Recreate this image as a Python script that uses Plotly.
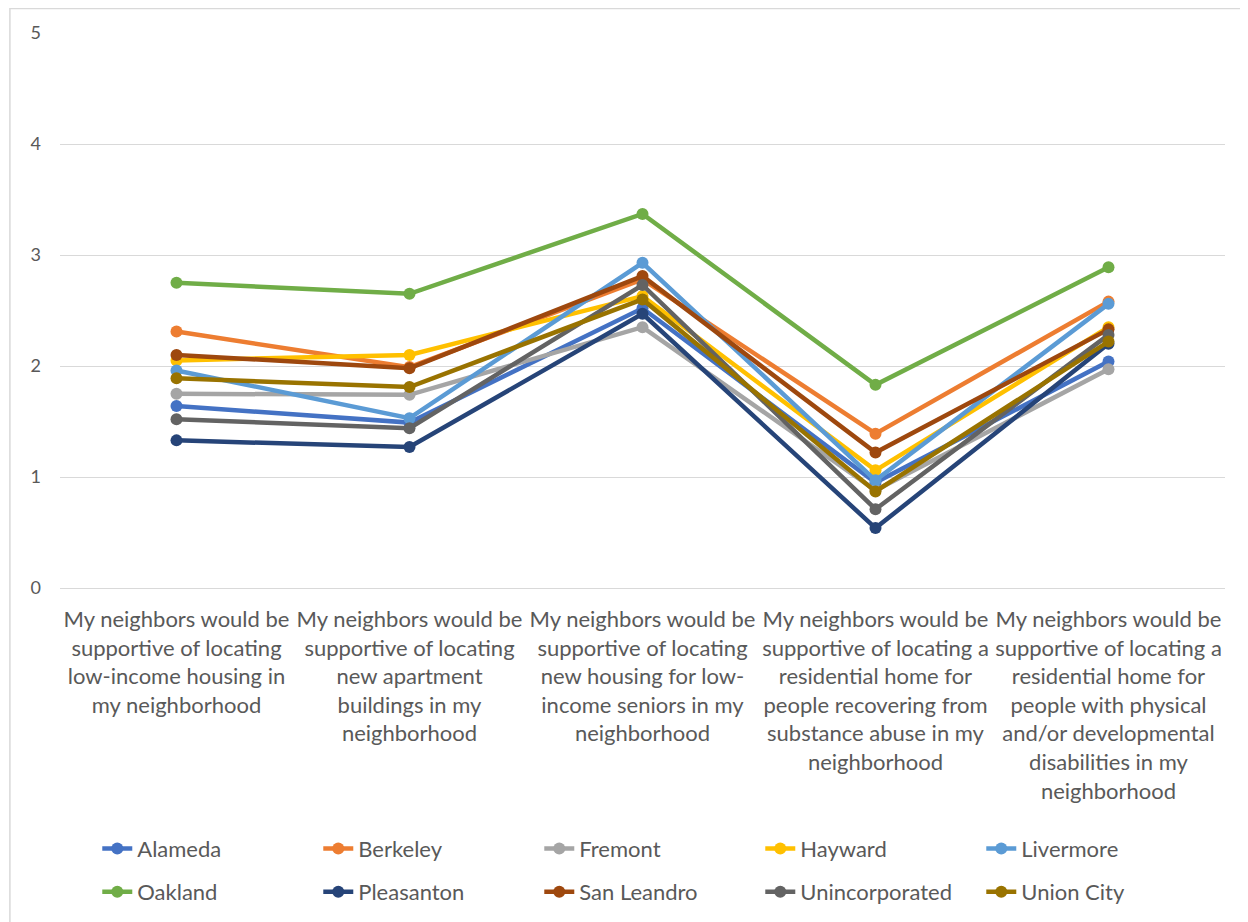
import plotly.graph_objects as go

# survey statements (x categories), wrapped like the original chart
statements = [
    "My neighbors would be<br>supportive of locating<br>low-income housing in<br>my neighborhood",
    "My neighbors would be<br>supportive of locating<br>new apartment<br>buildings in my<br>neighborhood",
    "My neighbors would be<br>supportive of locating<br>new housing for low-<br>income seniors in my<br>neighborhood",
    "My neighbors would be<br>supportive of locating a<br>residential home for<br>people recovering from<br>substance abuse in my<br>neighborhood",
    "My neighbors would be<br>supportive of locating a<br>residential home for<br>people with physical<br>and/or developmental<br>disabilities in my<br>neighborhood",
]

# mean score per city for each statement
alameda = [1.64, 1.49, 2.52, 0.95, 2.04]
berkeley = [2.31, 1.99, 2.78, 1.39, 2.58]
fremont = [1.75, 1.74, 2.35, 0.88, 1.97]
hayward = [2.05, 2.10, 2.63, 1.06, 2.35]
livermore = [1.96, 1.53, 2.93, 0.97, 2.56]
oakland = [2.75, 2.65, 3.37, 1.83, 2.89]
pleasanton = [1.33, 1.27, 2.47, 0.54, 2.20]
san_leandro = [2.10, 1.98, 2.81, 1.22, 2.33]
unincorporated = [1.52, 1.44, 2.73, 0.71, 2.28]
union_city = [1.89, 1.81, 2.60, 0.87, 2.22]

series = [
    ("Alameda", alameda, "#4472C4"),
    ("Berkeley", berkeley, "#ED7D31"),
    ("Fremont", fremont, "#A5A5A5"),
    ("Hayward", hayward, "#FFC000"),
    ("Livermore", livermore, "#5B9BD5"),
    ("Oakland", oakland, "#70AD47"),
    ("Pleasanton", pleasanton, "#264478"),
    ("San Leandro", san_leandro, "#9E480E"),
    ("Unincorporated", unincorporated, "#636363"),
    ("Union City", union_city, "#997300"),
]

fig = go.Figure()
for i, (name, vals, color) in enumerate(series):
    fig.add_trace(go.Scatter(
        x=list(range(len(statements))), y=vals, name=name,
        mode="lines+markers",
        line=dict(color=color, width=4.5),
        marker=dict(color=color, size=12),
        legend="legend" if i < 5 else "legend2",
    ))

legend_style = dict(
    orientation="h", x=0.032, xanchor="left", yanchor="top",
    entrywidth=176, entrywidthmode="pixels",
    font=dict(size=22, color="#595959"), bgcolor="rgba(0,0,0,0)",
)

# light chart frame (only its top and left edges fall inside the picture)
fig.add_shape(type="rect", xref="paper", yref="paper",
              x0=-0.043, x1=1.2, y0=-1, y1=1.044,
              line=dict(color="#D9D9D9", width=1.5), layer="below")

fig.update_layout(
    width=1248, height=922,
    paper_bgcolor="white", plot_bgcolor="white",
    font=dict(family="Lato, Liberation Sans, sans-serif", size=22, color="#595959"),
    margin=dict(l=52, r=31, t=25, b=342),
    xaxis=dict(
        tickmode="array", tickvals=list(range(len(statements))), ticktext=statements,
        range=[-0.5, 4.5], showgrid=False, zeroline=False, showline=False,
        tickangle=0, ticks="", tickfont=dict(size=22), ticklabelstandoff=16,
        automargin=False,
    ),
    yaxis=dict(
        range=[0, 5], dtick=1, showgrid=True, gridcolor="#D9D9D9", gridwidth=1,
        zeroline=True, zerolinecolor="#D9D9D9", zerolinewidth=1,
        ticks="", ticklabelstandoff=18, tickfont=dict(size=18),
        automargin=False,
    ),
    legend=dict(legend_style, y=-0.432),
    legend2=dict(legend_style, y=-0.510),
    showlegend=True,
)

fig.write_html("out.html")
